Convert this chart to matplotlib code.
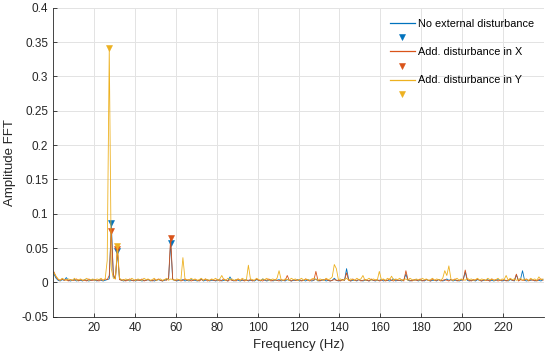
import numpy as np
import matplotlib
matplotlib.use("Agg")
import matplotlib.pyplot as plt

plt.rcParams['font.family'] = ['Liberation Sans', 'DejaVu Sans']

# frequency bins (Hz), 1 Hz spacing
freq = np.arange(240) + 0.5

# FFT amplitudes, in units of 1e-3
amp_none = [
    12, 6, 3, 2, 4, 3, 7, 3, 2, 3, 4, 2, 3, 3, 2, 4, 3, 2, 3, 4,
    3, 2, 4, 3, 2, 3, 4, 5, 87, 8, 6, 45, 5, 3, 2, 3, 4, 2, 3, 3,
    2, 4, 3, 2, 3, 3, 4, 2, 3, 2, 3, 4, 3, 2, 3, 4, 5, 58, 4, 3,
    2, 3, 3, 4, 2, 3, 2, 4, 3, 3, 2, 3, 5, 2, 3, 4, 2, 3, 3, 2,
    3, 4, 2, 3, 3, 2, 8, 3, 2, 4, 3, 2, 3, 3, 4, 2, 3, 3, 2, 4,
    3, 2, 5, 3, 2, 3, 4, 2, 3, 3, 4, 2, 3, 2, 4, 3, 2, 3, 3, 4,
    2, 3, 3, 2, 4, 3, 2, 3, 5, 2, 3, 3, 4, 2, 3, 2, 3, 6, 3, 2,
    3, 4, 3, 20, 4, 2, 3, 3, 2, 4, 3, 2, 3, 3, 2, 4, 3, 2, 3, 3,
    4, 2, 3, 3, 2, 3, 5, 2, 3, 3, 2, 4, 12, 3, 2, 3, 3, 4, 2, 3,
    3, 2, 4, 3, 2, 3, 3, 2, 4, 3, 2, 3, 5, 3, 4, 2, 3, 3, 2, 3,
    4, 15, 3, 2, 3, 3, 2, 4, 3, 2, 3, 3, 4, 2, 3, 2, 3, 4, 3, 2,
    3, 3, 2, 4, 3, 2, 11, 3, 4, 17, 3, 2, 3, 3, 4, 2, 3, 3, 2, 4,
]
amp_x = [
    15, 8, 4, 3, 5, 3, 4, 2, 4, 3, 3, 5, 2, 4, 3, 3, 2, 5, 3, 3,
    4, 3, 2, 4, 3, 5, 4, 10, 75, 12, 5, 49, 4, 3, 4, 2, 3, 5, 3, 2,
    4, 3, 3, 5, 2, 3, 4, 3, 2, 4, 3, 5, 3, 2, 4, 3, 6, 65, 5, 3,
    3, 4, 2, 3, 5, 3, 4, 2, 3, 4, 3, 2, 4, 3, 5, 2, 3, 4, 3, 3,
    4, 2, 3, 5, 3, 2, 4, 3, 3, 2, 5, 3, 4, 2, 3, 3, 4, 2, 3, 5,
    3, 3, 2, 4, 3, 5, 2, 3, 4, 3, 2, 4, 3, 3, 10, 3, 2, 4, 3, 3,
    4, 2, 3, 5, 3, 2, 4, 3, 16, 3, 2, 4, 3, 5, 3, 2, 3, 4, 3, 3,
    2, 4, 3, 14, 3, 2, 5, 3, 3, 4, 2, 3, 4, 3, 2, 5, 3, 3, 4, 2,
    3, 4, 2, 3, 5, 3, 2, 4, 3, 3, 4, 2, 17, 4, 3, 2, 4, 3, 3, 5,
    2, 3, 4, 3, 2, 5, 3, 3, 4, 2, 3, 4, 3, 2, 4, 3, 5, 2, 3, 4,
    3, 18, 4, 3, 2, 4, 3, 5, 3, 2, 4, 3, 3, 2, 5, 3, 4, 2, 3, 3,
    4, 2, 3, 5, 3, 3, 12, 2, 4, 3, 3, 5, 2, 4, 3, 3, 2, 4, 5, 3,
]
amp_y = [
    14, 9, 5, 3, 6, 4, 3, 5, 4, 3, 6, 3, 4, 5, 3, 4, 6, 3, 4, 5,
    3, 5, 4, 6, 3, 5, 32, 341, 20, 6, 5, 53, 6, 4, 3, 5, 4, 3, 6, 4,
    3, 5, 4, 3, 6, 4, 5, 3, 4, 6, 3, 4, 5, 3, 4, 6, 3, 5, 4, 3,
    5, 4, 3, 36, 5, 4, 3, 6, 4, 5, 3, 4, 6, 3, 5, 4, 3, 5, 4, 6,
    3, 5, 10, 4, 3, 6, 4, 5, 3, 4, 5, 3, 6, 4, 3, 25, 5, 4, 3, 6,
    4, 3, 5, 4, 6, 3, 4, 5, 3, 6, 17, 4, 3, 5, 4, 3, 6, 4, 5, 3,
    4, 6, 3, 5, 4, 3, 5, 6, 4, 3, 5, 4, 3, 6, 4, 5, 8, 26, 20, 4,
    5, 3, 4, 6, 3, 5, 4, 3, 6, 4, 5, 10, 3, 4, 6, 3, 5, 4, 3, 16,
    4, 5, 3, 6, 4, 9, 3, 5, 4, 6, 3, 4, 5, 3, 6, 4, 3, 5, 4, 3,
    6, 4, 5, 3, 4, 6, 3, 5, 4, 3, 6, 17, 10, 24, 5, 3, 4, 6, 3, 5,
    4, 3, 6, 4, 5, 3, 4, 6, 3, 5, 4, 3, 6, 4, 5, 3, 4, 6, 3, 5,
    4, 10, 3, 6, 4, 5, 3, 4, 6, 3, 5, 4, 3, 6, 4, 5, 3, 8, 4, 5,
]

# bins where a peak marker sits
peaks_none = [28, 31, 57]
peaks_x = [28, 31, 57]
peaks_y = [27, 31]

labels = ['No external disturbance', 'Add. disturbance in X', 'Add. disturbance in Y']
colors = ['#0072BD', '#D95319', '#EDB120']

x_ticks = [20, 40, 60, 80, 100, 120, 140, 160, 180, 200, 220]
y_ticks = [-0.05, 0, 0.05, 0.1, 0.15, 0.2, 0.25, 0.3, 0.35, 0.4]


def main():
    fig = plt.figure(figsize=(5.5, 3.58), dpi=100)
    ax = fig.add_axes([53 / 550, 1 - 316.7 / 358, 491 / 550, 309 / 358])

    handles = []
    for amp, pk, c in zip([amp_none, amp_x, amp_y], [peaks_none, peaks_x, peaks_y], colors):
        a = np.array(amp) / 1000.0
        ln, = ax.plot(freq, a, color=c, lw=0.6)
        mk, = ax.plot(freq[pk], a[pk], 'v', color=c, ms=4.6, mec=c, mew=0.4)
        handles += [ln, mk]

    ax.set_xlim(0, 240)
    ax.set_ylim(-0.05, 0.4)
    ax.set_xticks(x_ticks)
    ax.set_yticks(y_ticks)
    ax.set_yticklabels(['-0.05', '0', '0.05', '0.1', '0.15', '0.2', '0.25', '0.3', '0.35', '0.4'])
    ax.grid(True, color='#e3e3e3', lw=0.7)
    ax.set_axisbelow(True)
    ax.tick_params(direction='in', length=3, width=0.6, color='#262626',
                   labelsize=8.5, labelcolor='#262626')
    for s in ['left', 'bottom']:
        ax.spines[s].set_color('#262626')
        ax.spines[s].set_linewidth(0.6)
    for s in ['top', 'right']:
        ax.spines[s].set_visible(False)
    ax.set_xlabel('Frequency (Hz)', fontsize=9.5, color='#262626')
    ax.set_ylabel('Amplitude FFT', fontsize=9.5, color='#262626')

    leg_labels = [labels[0], '', labels[1], '', labels[2], '']
    leg = ax.legend(handles, leg_labels, loc='upper left', frameon=False,
                    bbox_to_anchor=(390 / 550, 1 - 19 / 358), bbox_transform=fig.transFigure,
                    borderaxespad=0, borderpad=0, fontsize=7.8, handlelength=2.3,
                    handletextpad=0.3, labelspacing=0.38, numpoints=1)
    for h in leg.legend_handles:
        if h.get_linestyle() != 'None':
            h.set_linewidth(0.9)

    fig.savefig('out.png', dpi=100)


if __name__ == "__main__":
    main()
